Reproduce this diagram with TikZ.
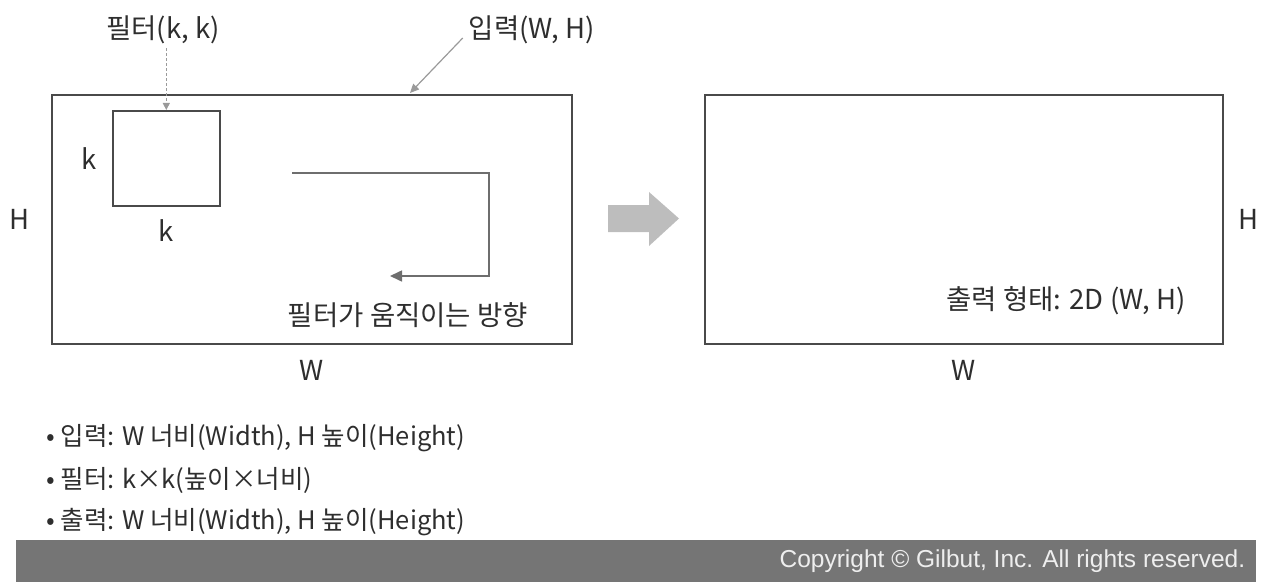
\documentclass[tikz,border=0pt]{standalone}
\usepackage{fontspec}
\setmainfont{Noto Sans CJK KR}
\newfontfamily\copyfont{Liberation Sans}
\usetikzlibrary{positioning, arrows.meta, calc}

\definecolor{txtgray}{HTML}{2E2E2E}
\definecolor{boxgray}{HTML}{4A4A4A}
\definecolor{pathgray}{HTML}{6E6E6E}
\definecolor{ptrgray}{HTML}{9A9A9A}
\definecolor{blockgray}{HTML}{BDBDBD}
\definecolor{bargray}{HTML}{757575}
\definecolor{copygray}{HTML}{EEEEEE}

\begin{document}
\begin{tikzpicture}[x=1pt, y=-1pt, every node/.style={text=txtgray, inner sep=0pt},
  lbl/.style={font=\fontsize{27.5}{32}\selectfont},
  item/.style={font=\fontsize{25.5}{30}\selectfont, anchor=west},
  plane/.style={draw=boxgray, line width=1.6pt, anchor=north west}]
	\useasboundingbox (0,0) rectangle (1268,588);
%
	\node[plane, minimum width=520pt, minimum height=249pt] (inp) at (51,94) {};
	\node[plane, minimum width=107pt, minimum height=95pt] (fbox) at (112,110) {};
	\node[lbl, left=15pt of fbox] (kh) {k};
	\node[lbl, below=13pt of fbox] (kw) {k};
	\node[lbl, left=21pt of inp] (hin) {H};
	\node[lbl, below=16pt of inp] (win) {W};
	\node[lbl] (flabel) at (163,30) {필터(k, k)};
	\node[lbl] (ilabel) at (532,30) {입력(W, H)};
	\coordinate (itop) at (410,93);
	\node[lbl] (mlabel) at (408,315) {필터가 움직이는 방향};
%
	\coordinate (m1) at (292,173);
	\coordinate (m2) at (489,173);
	\coordinate (m3) at (489,276);
	\coordinate (m4) at (390,276);
	\draw[pathgray, line width=1.6pt, -{Triangle[length=12pt, width=11pt]}] (m1) -- (m2) -- (m3) -- (m4);
	\draw[ptrgray, line width=1pt, dash pattern=on 3pt off 2pt, -{Triangle[length=7pt, width=7pt]}] (fbox.north |- flabel.south) ++(0,4) -- (fbox.north);
	\draw[ptrgray, line width=1.2pt, -{Triangle[length=9pt, width=8pt]}] ($(ilabel.west)+(-6,8)$) -- (itop);
%
	\fill[blockgray] (608,205) -- (649,205) -- (649,192) -- (679,218.5) -- (649,246) -- (649,232) -- (608,232) -- cycle;
%
	\node[plane, minimum width=518pt, minimum height=249pt] (out) at (704,94) {};
	\node[lbl, right=15pt of out] (hout) {H};
	\node[lbl, below=16pt of out] (wout) {W};
	\node[lbl] (olabel) at (1066,301) {출력 형태: 2D (W, H)};
%
	\node[item] (b1) at (46,438) {• 입력: W 너비(Width), H 높이(Height)};
	\node[item] (b2) at (46,480) {• 필터: k×k(높이×너비)};
	\node[item] (b3) at (46,522) {• 출력: W 너비(Width), H 높이(Height)};
%
	\node[fill=bargray, minimum width=1240pt, minimum height=42pt, anchor=north west] (bar) at (16,540) {};
	\node[font=\copyfont\fontsize{24.5}{28}\selectfont, text=copygray, anchor=east] (copy) at ($(bar.east)+(-11,0)$) {Copyright © Gilbut, Inc. All rights reserved.};
\end{tikzpicture}
\end{document}
